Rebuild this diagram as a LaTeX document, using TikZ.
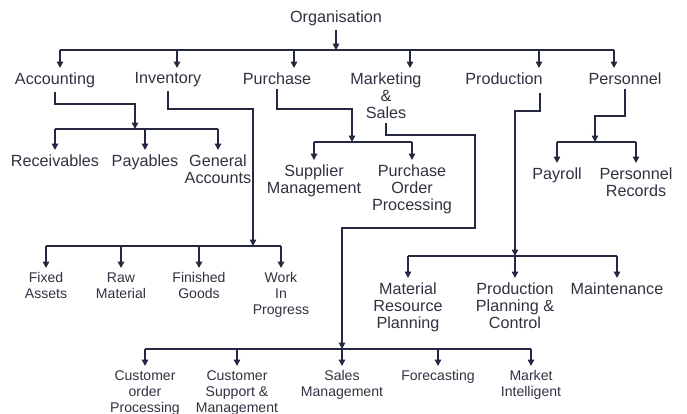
\documentclass[tikz,border=0pt]{standalone}
\usepackage{fontspec}
\setmainfont{Liberation Sans}
\usetikzlibrary{arrows.meta, positioning, calc}

\definecolor{ink}{RGB}{36,40,66}
\definecolor{txt}{RGB}{48,50,64}

\begin{document}
\begin{tikzpicture}[x=0.025cm, y=-0.025cm, color=ink, line width=1.3pt, dept/.style={text=txt, font=\fontsize{11.5}{12.3}\selectfont, align=center, inner sep=2.5pt, anchor=north}, leaf/.style={dept, font=\fontsize{10}{11.4}\selectfont}, tip/.style={-{Triangle[length=4.5pt,width=4.5pt]}}]
\useasboundingbox (0,0) rectangle (687,414);

\node[dept, anchor=center] (org) at (336,18) {Organisation};
\node[dept] (acc) at (55,68) {Accounting};
\node[dept] (inv) at (168,68) {Inventory};
\node[dept] (pur) at (277,68) {Purchase};
\node[dept] (mkt) at (386,68) {Marketing\\\&\\Sales};
\node[dept] (prd) at (504,68) {Production};
\node[dept] (per) at (625,68) {Personnel};

% main bus
\coordinate (bus) at (0,50);
\draw (60,50) -- (614,50);
\draw[tip] (org) -- (org |- bus);
\foreach \n/\x in {acc/60, inv/177, pur/294, mkt/410, prd/539, per/614}{
  \coordinate (h-\n) at (\x,50);
  \draw[tip] (h-\n) -- (h-\n |- \n.north);
}

% accounting
\node[dept] (rec) at (55,150) {Receivables};
\node[dept] (pay) at (145,150) {Payables};
\node[dept] (gen) at (218,150) {General\\Accounts};
\coordinate (acc-hub) at (135,129);
\draw[tip] (acc.south) -- ++(0,12) -| (acc-hub);
\draw (rec |- acc-hub) -- (gen |- acc-hub);
\foreach \n in {rec,pay,gen} \draw[tip] (\n |- acc-hub) -- (\n);

% inventory
\node[leaf] (fix) at (46,268) {Fixed\\Assets};
\node[leaf] (raw) at (121,268) {Raw\\Material};
\node[leaf] (fin) at (199,268) {Finished\\Goods};
\node[leaf] (wip) at (281,268) {Work\\In\\Progress};
\coordinate (inv-hub) at (253,246);
\draw[tip] (inv.south) -- ++(0,18) -| (inv-hub);
\draw (fix |- inv-hub) -- (wip |- inv-hub);
\foreach \n in {fix,raw,fin,wip} \draw[tip] (\n |- inv-hub) -- (\n);

% purchase
\node[dept] (sup) at (314,160) {Supplier\\Management};
\node[dept] (poo) at (412,160) {Purchase\\Order\\Processing};
\coordinate (pur-hub) at (352,142);
\draw[tip] (pur.south) -- ++(0,20) -| (pur-hub);
\draw (sup |- pur-hub) -- (poo |- pur-hub);
\foreach \n in {sup,poo} \draw[tip] (\n |- pur-hub) -- (\n);

% marketing & sales
\node[leaf] (cop) at (145,366) {Customer\\order\\Processing};
\node[leaf] (csm) at (237,366) {Customer\\Support \&\\Management};
\node[leaf] (slm) at (342,366) {Sales\\Management};
\node[leaf] (frc) at (438,366) {Forecasting};
\node[leaf] (mki) at (531,366) {Market\\Intelligent};
\coordinate (mkt-turn) at (475,228);
\coordinate (mkt-hub) at (342,349);
\draw[tip] (mkt.south) -- ++(0,12) -| (mkt-turn) -| (mkt-hub);
\draw (cop |- mkt-hub) -- (mki |- mkt-hub);
\foreach \n in {cop,csm,slm,frc,mki} \draw[tip] (\n |- mkt-hub) -- (\n);

% production
\node[dept] (mrp) at (408,278) {Material\\Resource\\Planning};
\node[dept] (ppc) at (515,278) {Production\\Planning \&\\Control};
\node[dept] (mnt) at (617,278) {Maintenance};
\coordinate (prd-hub) at (515,256);
\draw[tip] ($(prd.south)+(36,4)$) -- ++(0,18) -| (prd-hub);
\draw (mrp |- prd-hub) -- (mnt |- prd-hub);
\foreach \n in {mrp,ppc,mnt} \draw[tip] (\n |- prd-hub) -- (\n);

% personnel
\node[dept] (pyr) at (557,163) {Payroll};
\node[dept] (prc) at (636,163) {Personnel\\Records};
\coordinate (per-hub) at (595,142);
\draw[tip] (per.south) -- ++(0,27) -| (per-hub);
\draw (pyr |- per-hub) -- (prc |- per-hub);
\foreach \n in {pyr,prc} \draw[tip] (\n |- per-hub) -- (\n);
\end{tikzpicture}
\end{document}
